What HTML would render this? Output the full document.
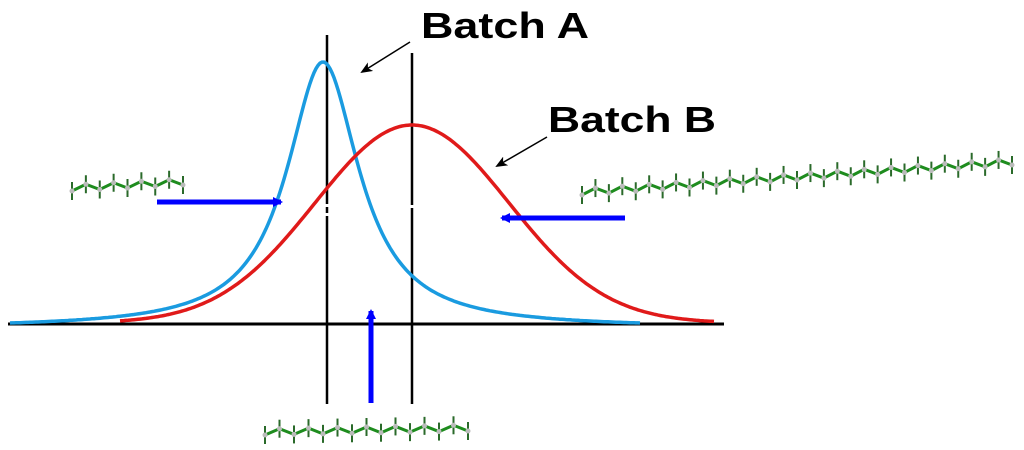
<!DOCTYPE html>
<html><head><style>
html,body{margin:0;padding:0;background:#fff;width:1024px;height:450px;overflow:hidden}
svg{display:block}
text{font-family:"Liberation Sans",sans-serif;font-weight:bold;font-size:36px;fill:#000}
</style></head><body>
<svg id="s" width="1024" height="450" viewBox="0 0 1024 450">
<defs>
<marker id="ah" markerWidth="10" markerHeight="10" refX="8" refY="5" orient="auto" markerUnits="userSpaceOnUse"><path d="M0,0 L10,5 L0,10 Z" fill="#0000ff"/></marker>
<marker id="bh" markerWidth="12" markerHeight="10" refX="10" refY="5" orient="auto" markerUnits="userSpaceOnUse"><path d="M0,0 L12,5 L0,10 L3,5 Z" fill="#000"/></marker>
</defs>
<line x1="8" y1="324" x2="724" y2="324" stroke="#000" stroke-width="3"/>
<line x1="327" y1="35" x2="327" y2="404" stroke="#000" stroke-width="2.5"/>
<line x1="412" y1="53" x2="412" y2="404" stroke="#000" stroke-width="2.5"/>
<path id="blue" fill="none" stroke="#1a9be0" stroke-width="3.5"/>
<path id="red" fill="none" stroke="#e01a1a" stroke-width="3.5"/>
<rect x="324" y="204" width="6" height="3" fill="#fff"/>
<rect x="324" y="213" width="6" height="3" fill="#fff"/>
<rect x="409" y="205" width="6" height="3" fill="#fff"/>
<line x1="157" y1="202" x2="281" y2="202" stroke="#0000ff" stroke-width="5" marker-end="url(#ah)"/>
<line x1="625" y1="218" x2="502" y2="218" stroke="#0000ff" stroke-width="5" marker-end="url(#ah)"/>
<line x1="371" y1="403" x2="371" y2="311" stroke="#0000ff" stroke-width="5" marker-end="url(#ah)"/>
<text x="421" y="38" textLength="168" lengthAdjust="spacingAndGlyphs">Batch A</text>
<line x1="410" y1="42" x2="362" y2="72" stroke="#000" stroke-width="1.5" marker-end="url(#bh)"/>
<text x="548" y="132" textLength="168" lengthAdjust="spacingAndGlyphs">Batch B</text>
<line x1="547" y1="137" x2="497" y2="166" stroke="#000" stroke-width="1.5" marker-end="url(#bh)"/>
<g id="mol"></g>
</svg>
<script>
var b="",r="";
var Le=1/(1+Math.pow(313/44,2));
for(var x=10;x<=640;x+=2){var d=(x-323)/44;var L=1/(1+d*d);var e=(x<323)?Le:1/(1+Math.pow(317/44,2));var y=323-261*Math.max(0,L-e)/(1-e);b+=(x==10?"M":"L")+x+","+y.toFixed(1);}
for(var x=120;x<=715;x+=2){var d=(x-412)/97;var y=323-198*Math.exp(-d*d/2);r+=(x==120?"M":"L")+x+","+y.toFixed(1);}
document.getElementById("blue").setAttribute("d",b);
document.getElementById("red").setAttribute("d",r);
var g=document.getElementById("mol"),h="";
function chain(x0,y0,x1,y1,n){
 var pts=[];for(var i=0;i<=n;i++){var t=i/n;var x=x0+(x1-x0)*t,y=y0+(y1-y0)*t+(i%2?-3:3);pts.push([x,y]);}
 h+='<polyline points="'+pts.map(function(p){return p.join(",")}).join(" ")+'" fill="none" stroke="#1e8c1e" stroke-width="3"/>';
 pts.forEach(function(p,i){
  h+='<line x1="'+p[0]+'" y1="'+(p[1]-9)+'" x2="'+p[0]+'" y2="'+(p[1]+9)+'" stroke="#2a6a2a" stroke-width="2"/>';
  h+='<circle cx="'+p[0]+'" cy="'+p[1]+'" r="2.5" fill="#bbb"/>';
 });
}
chain(72,188,183,182,8);
chain(582,192,1012,162,32);
chain(265,432,468,428,14);
g.innerHTML=h;
</script>
</body></html>
